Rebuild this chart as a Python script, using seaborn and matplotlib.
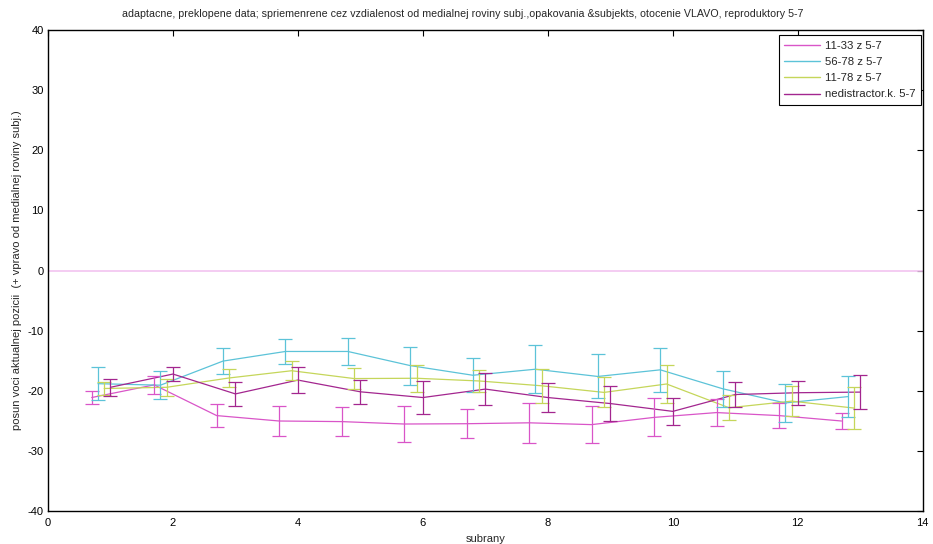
import numpy as np
import pandas as pd
import matplotlib
matplotlib.use("Agg")
import matplotlib.pyplot as plt
import seaborn as sns

# subsets (subrany) 1..13
subrany = list(range(1, 14))

series_names = ["11-33 z 5-7", "56-78 z 5-7", "11-78 z 5-7", "nedistractor.k. 5-7"]
series_colors = ["#d955c8", "#5cc3d8", "#c5d65a", "#a3268f"]
series_shift = [-0.3, -0.2, -0.1, 0.0]

mean_11_33 = [-21.1, -19.0, -24.1, -25.0, -25.1, -25.5, -25.45, -25.3, -25.6, -24.4, -23.6, -24.1, -25.0]
err_11_33 = [1.15, 1.55, 1.9, 2.5, 2.35, 2.95, 2.45, 3.3, 3.1, 3.15, 2.2, 2.1, 1.4]

mean_56_78 = [-18.8, -19.05, -15.05, -13.45, -13.45, -15.8, -17.4, -16.4, -17.6, -16.5, -19.65, -22.0, -20.95]
err_56_78 = [2.7, 2.35, 2.15, 2.0, 2.25, 3.15, 2.8, 4.0, 3.65, 3.7, 2.95, 3.1, 3.35]

mean_11_78 = [-19.6, -19.4, -17.85, -16.65, -17.95, -17.9, -18.35, -19.15, -20.25, -18.85, -22.8, -21.7, -22.85]
err_11_78 = [1.05, 1.4, 1.55, 1.55, 1.7, 2.2, 1.85, 2.85, 2.5, 3.1, 2.05, 2.55, 3.55]

mean_nedis = [-19.4, -17.2, -20.5, -18.2, -20.15, -21.1, -19.7, -21.1, -22.1, -23.4, -20.6, -20.3, -20.2]
err_nedis = [1.4, 1.15, 1.95, 2.1, 2.0, 2.7, 2.6, 2.35, 2.9, 2.25, 2.0, 2.0, 2.85]

means = [mean_11_33, mean_56_78, mean_11_78, mean_nedis]
errs = [err_11_33, err_56_78, err_11_78, err_nedis]

rows = []
for name, shift, m, e in zip(series_names, series_shift, means, errs):
    for s, v, d in zip(subrany, m, e):
        rows.append({"subrany": s + shift, "posun": v, "err": d, "serie": name})
df = pd.DataFrame(rows)

sns.set_theme(style="white")
plt.rcParams["font.family"] = ["Liberation Sans", "DejaVu Sans"]
plt.rcParams["xtick.direction"] = "in"
plt.rcParams["ytick.direction"] = "in"
plt.rcParams["axes.unicode_minus"] = False

fig = plt.figure(figsize=(9.33, 5.44), dpi=100)
ax = fig.add_axes([0.0514, 0.0601, 0.9376, 0.8853])

# reference line at zero
ax.plot([0, 14], [0, 0], color="#f2c4f0", lw=1.2, zorder=1)

palette = dict(zip(series_names, series_colors))
sns.lineplot(data=df, x="subrany", y="posun", hue="serie", hue_order=series_names,
             palette=palette, lw=0.9, ax=ax, legend=True, zorder=3, sort=False)

for name in series_names:
    sub = df[df["serie"] == name]
    ax.errorbar(sub["subrany"], sub["posun"], yerr=sub["err"], fmt="none",
                ecolor=palette[name], elinewidth=0.9, capsize=5.2, capthick=0.9, zorder=3)

ax.set_xlim(0, 14)
ax.set_ylim(-40, 40)
ax.set_xticks(np.arange(0, 15, 2))
ax.set_yticks(np.arange(-40, 41, 10))
ax.tick_params(axis="both", which="both", labelsize=8, length=4, width=0.8,
               top=True, right=True, colors="black")
ax.tick_params(axis="x", pad=5)
ax.tick_params(axis="y", pad=3)
for sp in ax.spines.values():
    sp.set_color("black")
    sp.set_linewidth(1.0)

fig.text(463 / 933, 1 - 14 / 544,
         "adaptacne, preklopene data; spriemenrene cez vzdialenost od medialnej roviny subj.,"
         "opakovania &subjekts, otocenie VLAVO, reproduktory 5-7",
         fontsize=7.7, ha="center", va="center")
ax.set_xlabel("subrany", fontsize=8, labelpad=4)
ax.set_ylabel("posun voci aktualnej pozicii  (+ vpravo od medialnej roviny subj.)", fontsize=8, labelpad=4)

leg = ax.legend(loc="upper right", bbox_to_anchor=(0.9983, 0.989), borderaxespad=0,
                fontsize=8.2, frameon=True, fancybox=False,
                edgecolor="black", framealpha=1,
                handlelength=3.1, handletextpad=0.45, labelspacing=0.55, borderpad=0.5)
leg.get_frame().set_linewidth(0.8)
for line in leg.get_lines():
    line.set_linewidth(1.0)

fig.savefig("out.png", dpi=100)
